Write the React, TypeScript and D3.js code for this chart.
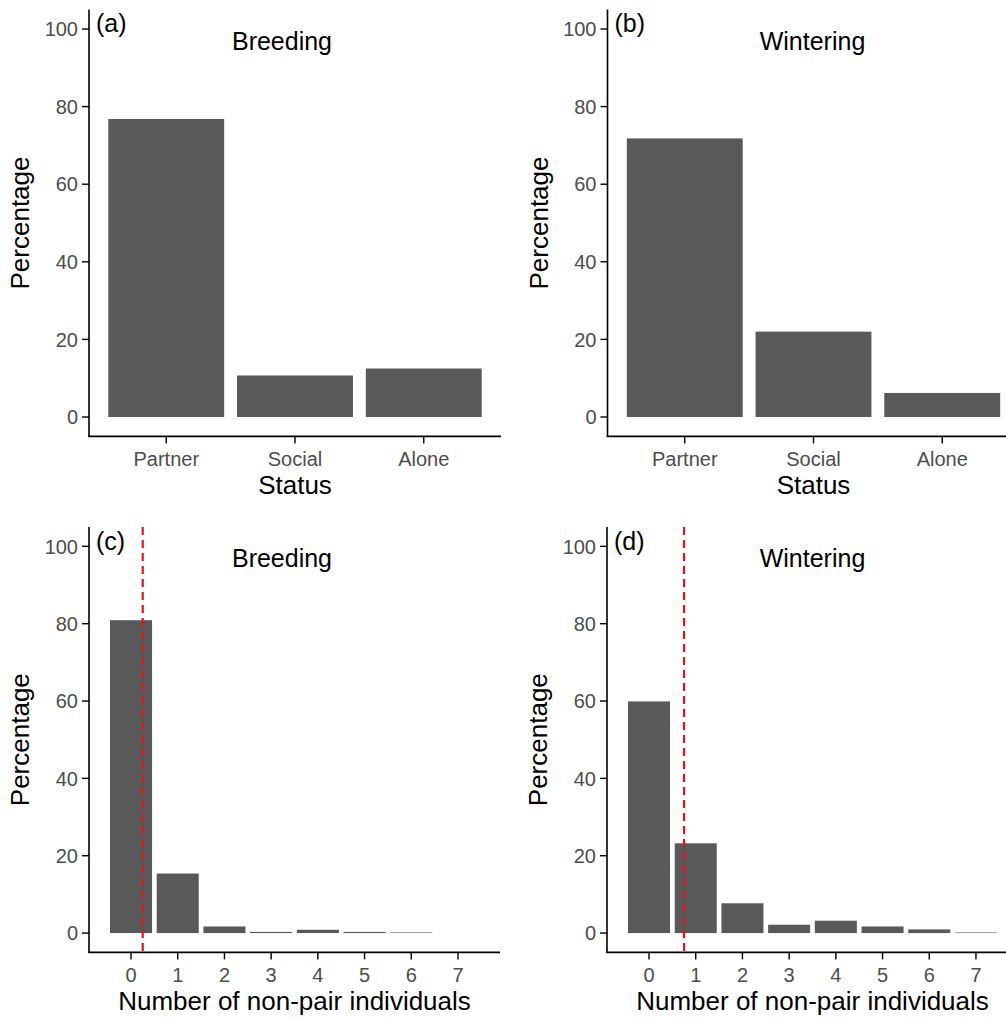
import React from "react";
import * as d3 from "d3";

// Share of observations by social status
const statusCategories = ["Partner", "Social", "Alone"];
const breedingStatus = [76.8, 10.7, 12.5];
const winteringStatus = [71.8, 22.0, 6.2];

// Distribution of the number of non-pair individuals nearby
const nonPairCounts = [0, 1, 2, 3, 4, 5, 6, 7];
const breedingNonPair = [80.9, 15.4, 1.7, 0.3, 0.85, 0.3, 0.15, 0];
const winteringNonPair = [59.9, 23.2, 7.7, 2.15, 3.2, 1.7, 0.95, 0.15];
const breedingMean = 0.25;
const winteringMean = 0.75;

const yTicks = [0, 20, 40, 60, 80, 100];

const FONT = "'Liberation Sans', Arial, Helvetica, sans-serif";
const BAR = "#595959";
const TICK_TEXT = "#4d4d4d";

type PanelProps = {
  left: number;
  right: number;
  top: number;
  bottom: number;
  tag: string;
  title: string;
  titleCenter: number;
  xTitle: string;
  discrete?: { cats: string[]; values: number[] };
  continuous?: { xs: number[]; values: number[]; mean: number };
};

function Panel(p: PanelProps) {
  const y = d3.scaleLinear().domain([-5, 105]).range([p.bottom, p.top]);
  const axisColor = "#000";
  const bars: React.ReactNode[] = [];
  const xTickEls: React.ReactNode[] = [];
  let vline: React.ReactNode = null;

  if (p.discrete) {
    const x = d3
      .scalePoint<string>()
      .domain(p.discrete.cats)
      .range([p.left, p.right])
      .padding(0.6);
    const w = x.step() * 0.9;
    p.discrete.cats.forEach((c, i) => {
      const cx = x(c) as number;
      const v = p.discrete!.values[i];
      bars.push(
        <rect key={c} x={cx - w / 2} y={y(v)} width={w} height={y(0) - y(v)} fill={BAR} />
      );
      xTickEls.push(
        <g key={c}>
          <line x1={cx} x2={cx} y1={p.bottom} y2={p.bottom + 7} stroke={axisColor} strokeWidth={1.4} />
          <text x={cx} y={p.bottom + 30} textAnchor="middle" fontSize={20} fill={TICK_TEXT}>
            {c}
          </text>
        </g>
      );
    });
  } else if (p.continuous) {
    const x = d3.scaleLinear().domain([-0.9, 7.9]).range([p.left, p.right]);
    const w = (x(1) - x(0)) * 0.9;
    p.continuous.xs.forEach((k, i) => {
      const v = p.continuous!.values[i];
      if (v > 0) {
        bars.push(
          <rect key={k} x={x(k) - w / 2} y={y(v)} width={w} height={y(0) - y(v)} fill={BAR} />
        );
      }
      xTickEls.push(
        <g key={k}>
          <line x1={x(k)} x2={x(k)} y1={p.bottom} y2={p.bottom + 7} stroke={axisColor} strokeWidth={1.4} />
          <text x={x(k)} y={p.bottom + 30} textAnchor="middle" fontSize={20} fill={TICK_TEXT}>
            {k}
          </text>
        </g>
      );
    });
    const mx = x(p.continuous.mean);
    vline = (
      <line
        x1={mx}
        x2={mx}
        y1={p.top}
        y2={p.bottom}
        stroke="#e8121c"
        strokeWidth={2.2}
        strokeDasharray="8,5"
      />
    );
  }

  const midY = (p.top + p.bottom) / 2;
  const midX = (p.left + p.right) / 2;

  return (
    <g fontFamily={FONT}>
      {bars}
      {vline}
      {/* y axis */}
      <line x1={p.left} x2={p.left} y1={p.top} y2={p.bottom} stroke={axisColor} strokeWidth={1.6} />
      {yTicks.map((t) => (
        <g key={t}>
          <line x1={p.left - 7} x2={p.left} y1={y(t)} y2={y(t)} stroke={axisColor} strokeWidth={1.4} />
          <text x={p.left - 11} y={y(t)} dy="0.36em" textAnchor="end" fontSize={20} fill={TICK_TEXT}>
            {t}
          </text>
        </g>
      ))}
      {/* x axis */}
      <line x1={p.left - 0.8} x2={p.right} y1={p.bottom} y2={p.bottom} stroke={axisColor} strokeWidth={1.6} />
      {xTickEls}
      {/* titles */}
      <text x={p.left + 7} y={p.top + 22.5} fontSize={25} fill="#000">
        {p.tag}
      </text>
      <text x={p.left + p.titleCenter} y={p.top + 40} textAnchor="middle" fontSize={25} fill="#000">
        {p.title}
      </text>
      <text x={midX} y={p.bottom + 58} textAnchor="middle" fontSize={26} fill="#000">
        {p.xTitle}
      </text>
      <text
        transform={`translate(${p.left - 60},${midY}) rotate(-90)`}
        textAnchor="middle"
        fontSize={26}
        fill="#000"
      >
        Percentage
      </text>
    </g>
  );
}

export default function App() {
  return (
    <svg
      width={1006}
      height={1019}
      viewBox="0 0 1006 1019"
      style={{ position: "absolute", left: 0, top: 0, background: "#fff" }}
    >
      <rect width={1006} height={1019} fill="#fff" />
      <Panel
        left={89}
        right={501}
        top={9.6}
        bottom={436.4}
        tag="(a)"
        title="Breeding"
        titleCenter={193}
        xTitle="Status"
        discrete={{ cats: statusCategories, values: breedingStatus }}
      />
      <Panel
        left={607.5}
        right={1019.5}
        top={9.6}
        bottom={436.4}
        tag="(b)"
        title="Wintering"
        titleCenter={205}
        xTitle="Status"
        discrete={{ cats: statusCategories, values: winteringStatus }}
      />
      <Panel
        left={89}
        right={500}
        top={527}
        bottom={952.4}
        tag="(c)"
        title="Breeding"
        titleCenter={193}
        xTitle="Number of non-pair individuals"
        continuous={{ xs: nonPairCounts, values: breedingNonPair, mean: breedingMean }}
      />
      <Panel
        left={607}
        right={1018}
        top={527}
        bottom={952.4}
        tag="(d)"
        title="Wintering"
        titleCenter={205.5}
        xTitle="Number of non-pair individuals"
        continuous={{ xs: nonPairCounts, values: winteringNonPair, mean: winteringMean }}
      />
    </svg>
  );
}
